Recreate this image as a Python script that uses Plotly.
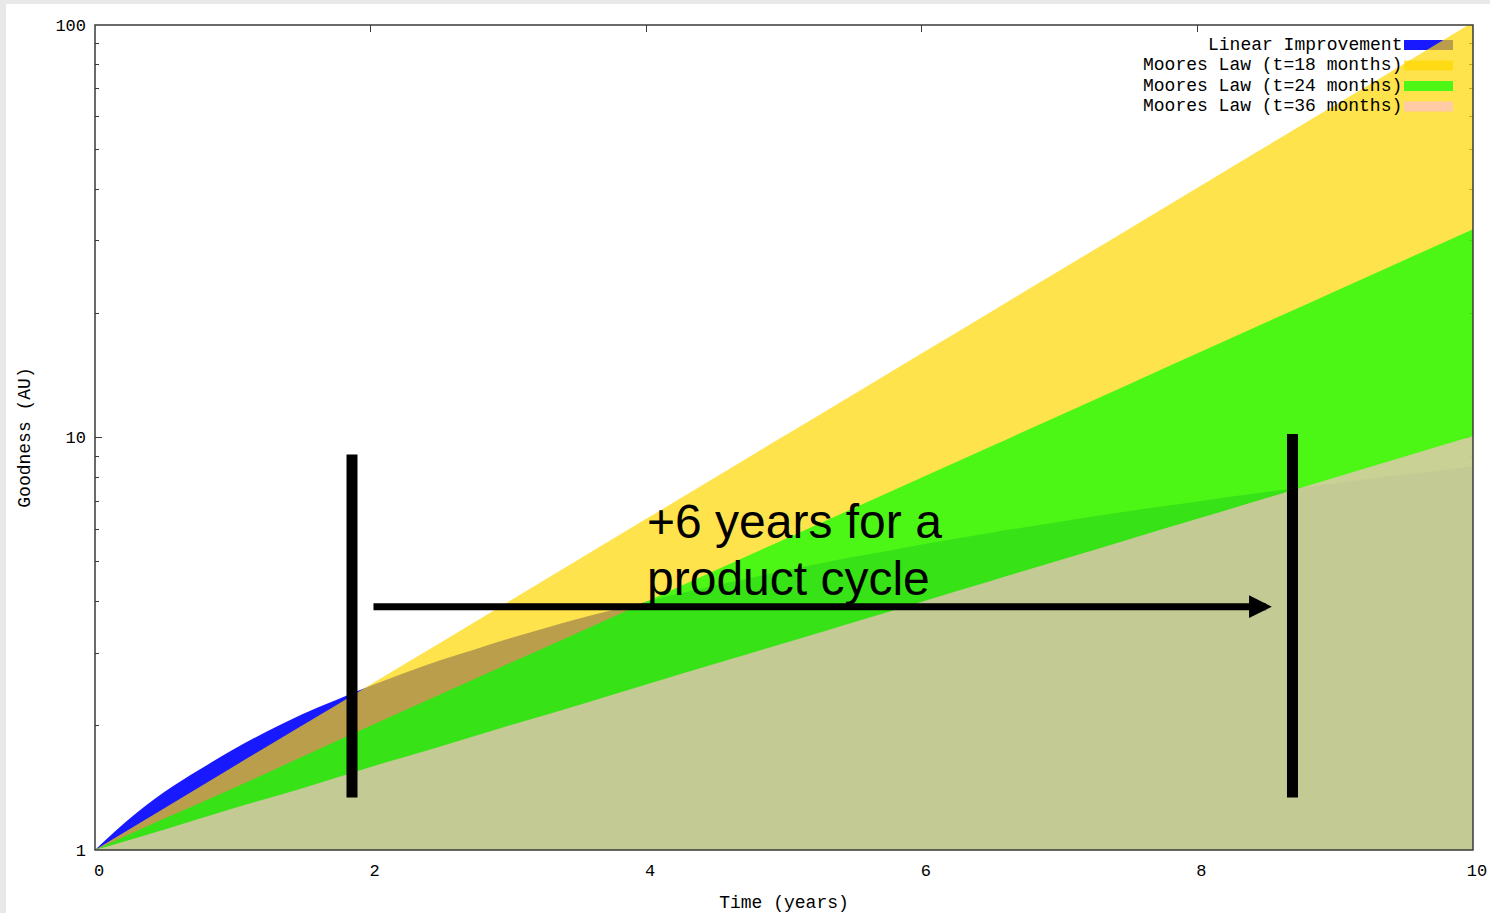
import math
import plotly.graph_objects as go

# ---- data -------------------------------------------------------------
years_fine = [i * 0.25 for i in range(41)]
years = [i * 0.5 for i in range(21)]

linear = [1.0, 1.19, 1.38, 1.56, 1.75, 1.94, 2.13, 2.31, 2.5, 2.69, 2.88,
          3.06, 3.25, 3.44, 3.63, 3.81, 4.0, 4.19, 4.38, 4.56, 4.75, 4.94,
          5.13, 5.31, 5.5, 5.69, 5.88, 6.06, 6.25, 6.44, 6.63, 6.81, 7.0,
          7.19, 7.38, 7.56, 7.75, 7.94, 8.13, 8.31, 8.5]
moore18 = [1.0, 1.26, 1.59, 2.0, 2.52, 3.17, 4.0, 5.04, 6.35, 8.0, 10.08,
           12.7, 16.0, 20.16, 25.4, 32.0, 40.3, 50.8, 64.0, 80.6, 101.6]
moore24 = [1.0, 1.19, 1.41, 1.68, 2.0, 2.38, 2.83, 3.36, 4.0, 4.76, 5.66,
           6.73, 8.0, 9.51, 11.31, 13.45, 16.0, 19.03, 22.63, 26.91, 32.0]
moore36 = [1.0, 1.12, 1.26, 1.41, 1.59, 1.78, 2.0, 2.24, 2.52, 2.83, 3.17,
           3.56, 4.0, 4.49, 5.04, 5.66, 6.35, 7.13, 8.0, 8.98, 10.08]

series_names = ["Linear Improvement", "Moores Law (t=18 months)",
                "Moores Law (t=24 months)", "Moores Law (t=36 months)"]
series_x = [years_fine, years, years, years]
series_values = [linear, moore18, moore24, moore36]
series_colors = ["rgba(0,0,255,0.9)", "rgba(255,215,0,0.7)",
                 "rgba(0,255,0,0.7)", "rgba(255,192,203,0.7)"]

x_ticks = [0, 2, 4, 6, 8, 10]
y_ticks = [1, 10, 100]
y_minor = [m * d for d in (1, 10) for m in range(2, 10)]

# product-cycle markers: where the linear curve crosses the 18 and 36 month curves
cycle_start = 1.865
cycle_end = 8.69
cycle_label = ["+6 years for a", "product cycle"]

# ---- geometry ---------------------------------------------------------
W, H = 1490, 913
ML, MR, MT, MB = 95, 17, 25, 63
PW, PH = W - ML - MR, H - MT - MB


def px_x(p):
    return (p - ML) / PW


def px_y(p):
    return (H - MB - p) / PH


MONO = "Liberation Mono"

fig = go.Figure()

# filled curves down to the baseline at 1, drawn in order so they blend
for name, xs, vals, col in zip(series_names, series_x, series_values, series_colors):
    fig.add_trace(go.Scatter(
        x=[xs[0], xs[-1]], y=[1, 1], mode="lines",
        line=dict(width=0), hoverinfo="skip", showlegend=False,
    ))
    fig.add_trace(go.Scatter(
        x=xs, y=vals,
        fill="tonexty", fillcolor=col, mode="lines",
        line=dict(width=0, shape="spline", smoothing=1, simplify=False),
        name=name, hoverinfo="skip", showlegend=False,
    ))

shapes = []
annotations = []

# page border strips
shapes.append(dict(type="rect", xref="paper", yref="paper",
                   x0=px_x(0), x1=px_x(6), y0=px_y(H), y1=px_y(0),
                   fillcolor="#e8e8e8", line=dict(width=0), layer="above"))
shapes.append(dict(type="rect", xref="paper", yref="paper",
                   x0=px_x(0), x1=px_x(W), y0=px_y(4), y1=px_y(0),
                   fillcolor="#e8e8e8", line=dict(width=0), layer="above"))

# key: text right aligned, swatch to the right
row_y = [45, 65.5, 86, 106.5]
for i, (name, col) in enumerate(zip(series_names, series_colors)):
    annotations.append(dict(
        xref="paper", yref="paper", x=px_x(1404), y=px_y(row_y[i]),
        xanchor="right", yanchor="middle", text=name, showarrow=False,
        font=dict(family=MONO, size=18, color="black"),
    ))
    shapes.append(dict(
        type="rect", xref="paper", yref="paper",
        x0=px_x(1404), x1=px_x(1453),
        y0=px_y(row_y[i] + 5), y1=px_y(row_y[i] - 5),
        fillcolor=col, line=dict(width=0),
        layer="below" if i < 2 else "above",
    ))

# frame around the plot area
shapes.append(dict(type="rect", xref="paper", yref="paper",
                   x0=0, x1=1, y0=0, y1=1,
                   line=dict(color="#3a3a3a", width=1.5), layer="above"))

# product cycle bars
for xc, top in ((cycle_start, 9.1), (cycle_end, 10.2)):
    shapes.append(dict(type="line", xref="x", yref="y",
                       x0=xc, x1=xc, y0=1.34, y1=top,
                       line=dict(color="black", width=11), layer="above"))

# arrow between the bars
arrow_y = math.log10(3.89)
annotations.append(dict(
    x=8.54, y=arrow_y, ax=2.01, ay=arrow_y, xref="x", yref="y",
    axref="x", ayref="y", text="", showarrow=True,
    arrowhead=2, arrowwidth=7, arrowsize=0.65, arrowcolor="black", standoff=0,
))
for line_text, ypx in zip(cycle_label, (521, 578)):
    annotations.append(dict(
        x=px_x(645), y=px_y(ypx), xref="paper", yref="paper",
        xanchor="left", yanchor="middle", align="left", showarrow=False,
        text=line_text,
        font=dict(family="Liberation Sans", size=48, color="black"),
    ))

fig.update_layout(
    width=W, height=H,
    margin=dict(l=ML, r=MR, t=MT, b=MB, pad=0),
    paper_bgcolor="white", plot_bgcolor="white",
    showlegend=False,
    shapes=shapes, annotations=annotations,
    xaxis=dict(
        range=[0, 10], tickvals=x_ticks, ticktext=[str(v) for v in x_ticks],
        ticks="inside", ticklen=7, tickwidth=1.2, tickcolor="#3a3a3a",
        mirror="allticks", showline=False, showgrid=False, zeroline=False,
        layer="below traces", ticklabelstandoff=8, ticklabelshift=4,
        automargin=False,
        tickfont=dict(family=MONO, size=17, color="black"),
        title=dict(text="Time (years)", standoff=16,
                   font=dict(family=MONO, size=18, color="black")),
    ),
    yaxis=dict(
        type="log", range=[0, 2], tickvals=y_ticks,
        ticktext=[str(v) for v in y_ticks],
        ticks="inside", ticklen=7, tickwidth=1.2, tickcolor="#3a3a3a",
        minor=dict(tickvals=y_minor, ticks="inside", ticklen=4,
                   tickwidth=1.2, tickcolor="#3a3a3a", showgrid=False),
        mirror="allticks", showline=False, showgrid=False, zeroline=False,
        layer="below traces", ticklabelstandoff=8, automargin=False,
        tickfont=dict(family=MONO, size=17, color="black"),
        title=dict(text="Goodness (AU)", standoff=20,
                   font=dict(family=MONO, size=18, color="black")),
    ),
)

fig.write_html("out.html")
